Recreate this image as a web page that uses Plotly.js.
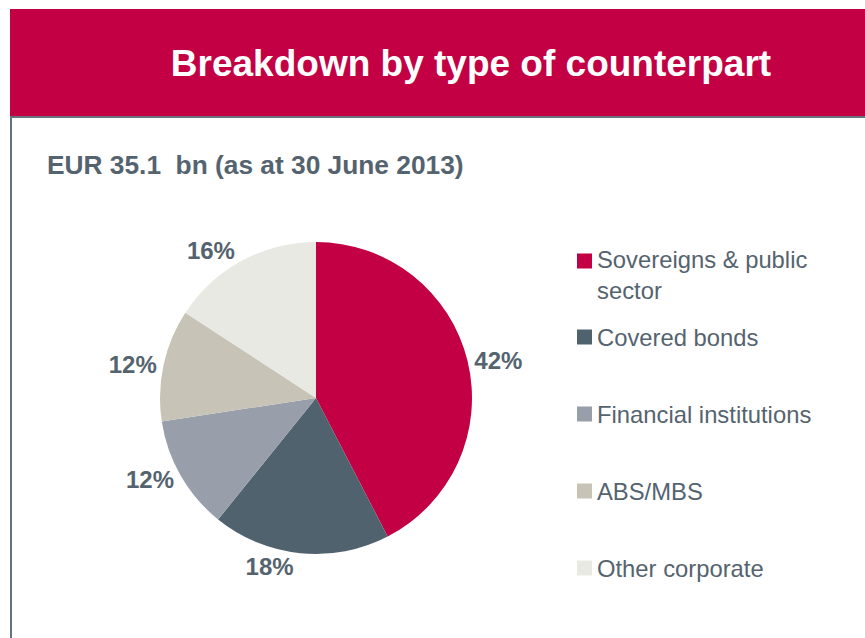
<!DOCTYPE html>
<html>
<head>
<meta charset="utf-8">
<script src="https://cdn.plot.ly/plotly-3.0.1.min.js"></script>
<style>html,body{margin:0;padding:0;background:#fff;}#chart{width:865px;height:638px;}</style>
</head>
<body>
<div id="chart"></div>
<script>
// ---- data ----
const categories = ["Sovereigns & public sector", "Covered bonds", "Financial institutions", "ABS/MBS", "Other corporate"];
const legendLabels = ["Sovereigns & public<br>sector", "Covered bonds", "Financial institutions", "ABS/MBS", "Other corporate"];
const shares = [42.4, 18.4, 11.8, 11.6, 15.8];
const sliceColors = ["#C30044", "#51626F", "#989FAA", "#C8C3B7", "#E9E9E4"];
const chartTitle = "Breakdown by type of counterpart";
const subTitle = "EUR 35.1\u00A0\u00A0bn (as at 30 June 2013)";

// ---- layout helpers (figure is 865x638, zero margins) ----
const W = 865, H = 638;
const px = x => x / W;
const py = y => 1 - y / H;
const textGray = "#55636F";
const font = "Liberation Sans, Arial, sans-serif";

const pie = {
  type: "pie",
  labels: categories,
  values: shares,
  marker: { colors: sliceColors, line: { width: 0 } },
  sort: false,
  direction: "clockwise",
  rotation: 0,
  textposition: "outside",
  texttemplate: "%{percent:.0%}",
  textfont: { family: font, size: 24, color: textGray, weight: "bold" },
  domain: { x: [px(160), px(472)], y: [py(554), py(242)] },
  showlegend: false,
  hoverinfo: "label+percent"
};

const shapes = [
  { type: "rect", xref: "paper", yref: "paper", x0: px(10), x1: px(865), y0: py(116), y1: py(9),
    fillcolor: "#C30044", line: { width: 0 }, layer: "below" },
  { type: "line", xref: "paper", yref: "paper", x0: px(10), x1: px(865), y0: py(117), y1: py(117),
    line: { color: "#66737E", width: 2 } },
  { type: "line", xref: "paper", yref: "paper", x0: px(11), x1: px(11), y0: py(116), y1: py(638),
    line: { color: "#66737E", width: 2 } }
];

const annotations = [
  { xref: "paper", yref: "paper", x: px(45), y: py(165.5), xanchor: "left", yanchor: "middle",
    text: "<b>" + subTitle + "</b>", showarrow: false,
    font: { family: font, size: 26.3, color: textGray } }
];

// custom legend laid out to match the reference spacing
const legendX = 577, legendY0 = 261, legendStep = 77, sq = 15;
legendLabels.forEach((lab, i) => {
  const cy = legendY0 + i * legendStep - (i > 0 ? 1 : 0);
  shapes.push({ type: "rect", xref: "paper", yref: "paper",
    x0: px(legendX), x1: px(legendX + sq), y0: py(cy + sq / 2), y1: py(cy - sq / 2),
    fillcolor: sliceColors[i], line: { width: 0 } });
  const multi = lab.indexOf("<br>") >= 0;
  annotations.push({ xref: "paper", yref: "paper", x: px(legendX + sq + 3),
    y: multi ? py(cy - 17) : py(cy), xanchor: "left", yanchor: multi ? "top" : "middle",
    align: "left", text: lab, showarrow: false,
    font: { family: font, size: 23.8, color: textGray } });
});

const layout = {
  width: W, height: H,
  margin: { l: 0, r: 0, t: 0, b: 0 },
  paper_bgcolor: "#ffffff",
  showlegend: false,
  title: { text: "<b>" + chartTitle + "</b>", x: px(471), xanchor: "center",
           y: py(63), yanchor: "middle", yref: "container",
           font: { family: font, size: 37, color: "#ffffff" } },
  shapes: shapes,
  annotations: annotations
};

Plotly.newPlot("chart", [pie], layout, { displayModeBar: false, staticPlot: true });
</script>
</body>
</html>
